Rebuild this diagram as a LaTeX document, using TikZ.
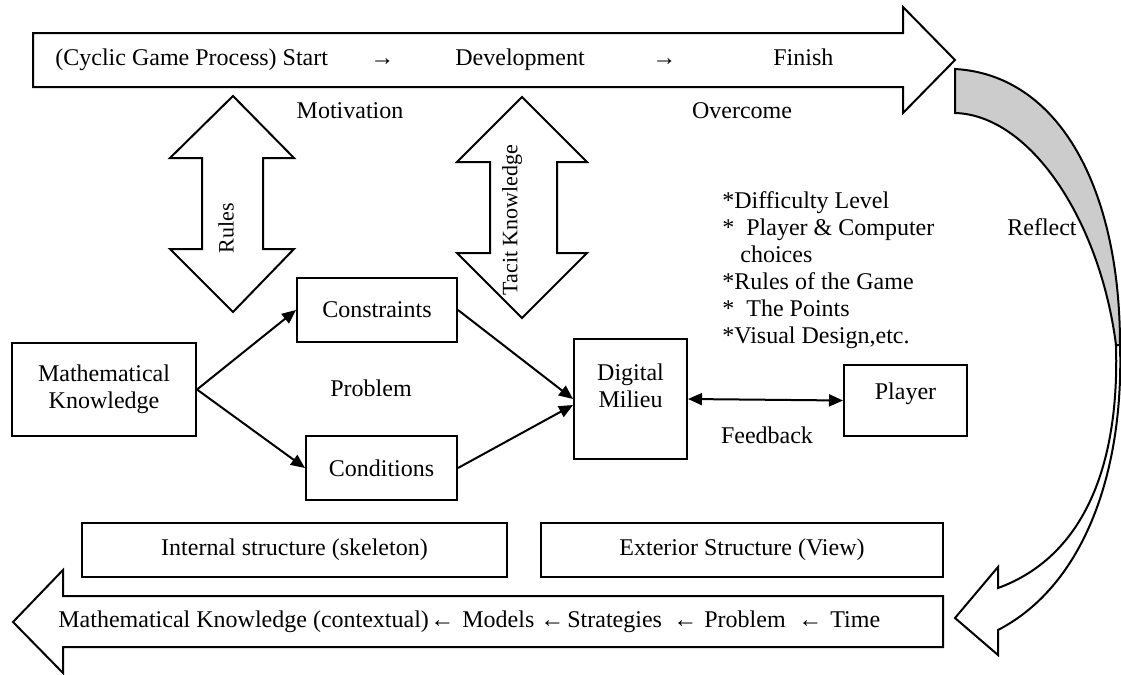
\documentclass[tikz,border=0pt]{standalone}
\usepackage{fontspec}
\setmainfont{Liberation Serif}
\usetikzlibrary{arrows.meta,positioning}

\begin{document}
\begin{tikzpicture}[x=0.5pt,y=-0.5pt,font=\fontsize{12}{13.5}\selectfont,
  box/.style={draw,line width=1pt,align=center,inner sep=0pt},
  word/.style={anchor=west,inner sep=0pt,text height=8pt,text depth=2.5pt},
  link/.style={line width=1pt,-{Triangle[length=7pt,width=6pt]}},
  block/.style={draw,line width=1pt,line join=miter,fill=white},
  side/.style={rotate=90,font=\fontsize{11}{13}\selectfont}]
  \useasboundingbox (0,0) rectangle (1121,675);

  % process arrow on top
  \draw[block] (33,33) -- (903,33) -- (903,7) -- (955,60) -- (903,113)
    -- (903,87) -- (33,87) -- cycle;
  \node[word] (start) at (55,60) {(Cyclic Game Process) Start};
  \node[word] (toA) at (370,60) {→};
  \node[word] (dev) at (455,60) {Development};
  \node[word] (toB) at (652,60) {→};
  \node[word] (finish) at (773,60) {Finish};

  % reflect arrow, back side grey
  \draw[block,fill=black!20] (955,69) .. controls (1060,75) and (1120,190) .. (1120,345)
    -- (1116,345) .. controls (1100,220) and (1030,115) .. (955,113) -- cycle;
  \draw[block] (1120,345) .. controls (1124,470) and (1085,585) .. (998,630)
    -- (998,655) -- (955,618) -- (998,567) -- (998,588)
    .. controls (1075,560) and (1120,480) .. (1116,345) -- cycle;
  \node (reflect) at (1042,227) {Reflect};

  % double arrows
  \draw[block] (233,96) -- (294,158) -- (263,158) -- (263,249) -- (294,249)
    -- (233,312) -- (170,249) -- (202,249) -- (202,158) -- (170,158) -- cycle;
  \node[side] (rules) at (226,228) {Rules};
  \draw[block] (522,97) -- (587,162) -- (557,162) -- (557,253) -- (587,253)
    -- (522,318) -- (457,253) -- (490,253) -- (490,162) -- (457,162) -- cycle;
  \node[side] (tacit) at (512,220) {Tacit Knowledge};

  \node (motiv) at (350,111) {Motivation};
  \node (overcome) at (742,111) {Overcome};

  \node[anchor=west,align=left,inner sep=0pt] (items) at (722,270) {*Difficulty Level\\
    * \ Player \& Computer\\\hspace*{9pt}choices\\*Rules of the Game\\
    * \ The Points\\*Visual Design,etc.};

  % main boxes
  \node[box,minimum width=92pt,minimum height=46.5pt] (math) at (104,389.5)
    {Mathematical\\Knowledge};
  \node[box,minimum width=80pt,minimum height=32pt] (constr) at (377,310) {Constraints};
  \node[box,minimum width=75.5pt,minimum height=32pt] (cond) at (381.5,468) {Conditions};
  \node[box,minimum width=56.5pt,minimum height=60pt] (milieu) at (630.5,399)
    {Digital\\Milieu\\\mbox{}};
  \node[box,minimum width=61.5pt,minimum height=35.5pt,text depth=9pt] (player)
    at (905.5,400.5) {Player};

  \draw[link] (math.east) -- (constr.west);
  \draw[link] (math.east) -- (cond.west);
  \draw[link] (constr.east) -- (milieu.west);
  \draw[link] (cond.east) -- ([yshift=-3pt]milieu.west);
  \draw[link,{Triangle[length=7pt,width=6pt]}-{Triangle[length=7pt,width=6pt]}]
    (milieu.east) -- (player.west);

  \node (problem) at (371,388) {Problem};
  \node (feedback) at (767,435) {Feedback};

  \node[box,minimum width=212.5pt,minimum height=27pt] (inner) at (294.5,550)
    {Internal structure (skeleton)};
  \node[box,minimum width=201pt,minimum height=27pt] (outer) at (742,550)
    {Exterior Structure (View)};

  % time arrow at the bottom
  \draw[block] (943,596) -- (63,596) -- (63,570) -- (13,622) -- (63,673)
    -- (63,647) -- (943,647) -- cycle;
  \node[word] (mk) at (58,622) {Mathematical Knowledge (contextual)};
  \node[word] (backA) at (430,622) {←};
  \node[word] (models) at (462,622) {Models};
  \node[word] (backB) at (540,622) {←};
  \node[word] (strat) at (567,622) {Strategies};
  \node[word] (backC) at (673,622) {←};
  \node[word] (prob) at (704,622) {Problem};
  \node[word] (backD) at (798,622) {←};
  \node[word] (time) at (830,622) {Time};
\end{tikzpicture}
\end{document}
